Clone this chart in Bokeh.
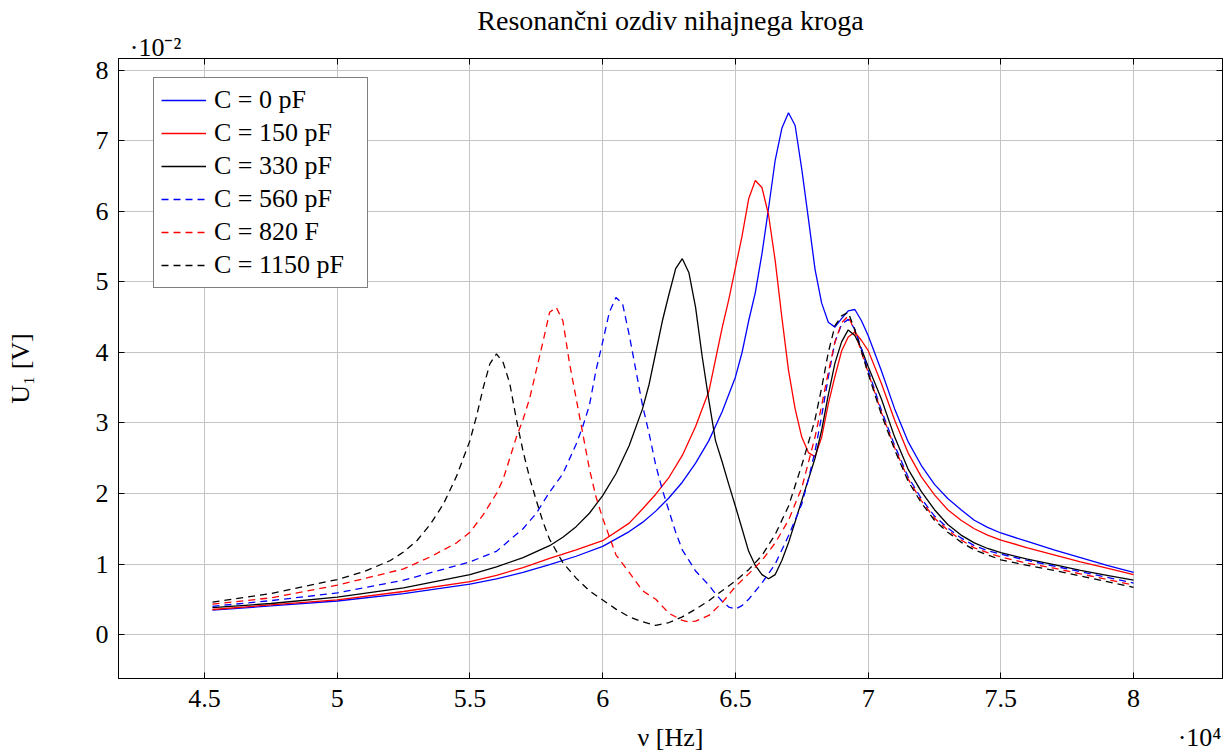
from bokeh.plotting import figure
from bokeh.models import (Range1d, FixedTicker, LinearAxis, Legend, LegendItem,
                          CustomJSTickFormatter, ColumnDataSource)
from bokeh.embed import file_html
from bokeh.resources import INLINE

# ---- data: frequency in kHz, voltage U1 in mV ----
nu_c0 = [45.3, 47.5, 50.0, 52.5, 55.0, 56.0, 57.0, 58.0, 59.0, 60.0, 61.0, 61.5, 62.0, 62.5, 63.0,
         63.5, 64.0, 64.5, 65.0, 65.25, 65.5, 65.75, 66.0, 66.25, 66.5, 66.75, 67.0, 67.25, 67.5,
         67.75, 68.0, 68.25, 68.5, 68.75, 69.0, 69.25, 69.5, 69.75, 70.0, 70.5, 71.0, 71.5, 72.0,
         72.5, 73.0, 73.5, 74.0, 74.5, 75.0, 76.0, 77.0, 78.0, 79.0, 80.0]
u_c0 = [3.45, 4.05, 4.75, 5.8, 7.15, 7.9, 8.8, 9.9, 11.1, 12.5, 14.6, 15.9, 17.5, 19.4, 21.6,
        24.3, 27.5, 31.6, 36.5, 40.0, 44.5, 48.5, 54.0, 60.5, 67.3, 71.8, 74.0, 72.2, 66.0,
        59.0, 51.8, 47.0, 44.3, 43.6, 44.8, 45.9, 46.1, 44.5, 42.4, 37.4, 32.0, 27.4, 24.0,
        21.3, 19.3, 17.7, 16.2, 15.2, 14.4, 13.2, 12.0, 10.9, 9.8, 8.8]

nu_c150 = [45.3, 47.5, 50.0, 52.5, 55.0, 56.0, 57.0, 58.0, 59.0, 60.0, 61.0, 61.5, 62.0, 62.5, 63.0,
           63.5, 64.0, 64.25, 64.5, 64.75, 65.0, 65.25, 65.5, 65.75, 66.0, 66.25, 66.5, 66.75,
           67.0, 67.25, 67.5, 67.75, 68.0, 68.25, 68.5, 68.75, 69.0, 69.25, 69.5, 69.75, 70.0,
           70.5, 71.0, 71.5, 72.0, 72.5, 73.0, 73.5, 74.0, 74.5, 75.0, 76.0, 77.0, 78.0, 79.0, 80.0]
u_c150 = [3.55, 4.2, 4.9, 6.1, 7.5, 8.4, 9.5, 10.8, 12.0, 13.3, 15.8, 17.8, 19.9, 22.3, 25.4,
          29.5, 34.5, 39.0, 43.5, 47.5, 52.0, 56.5, 61.8, 64.4, 63.4, 59.5, 53.0, 45.0,
          37.5, 32.0, 28.0, 25.8, 25.2, 28.0, 32.7, 36.6, 40.2, 42.2, 42.9, 41.7, 40.3,
          35.6, 30.4, 25.8, 22.4, 19.8, 17.7, 16.2, 15.0, 14.1, 13.4, 12.3, 11.3, 10.3, 9.4, 8.5]

nu_c330 = [45.3, 47.5, 50.0, 52.5, 55.0, 56.0, 57.0, 58.0, 58.5, 59.0, 59.5, 60.0, 60.5, 61.0,
           61.5, 61.75, 62.0, 62.25, 62.5, 62.75, 63.0, 63.25, 63.5, 63.75, 64.0, 64.25, 64.5,
           64.75, 65.0, 65.25, 65.5, 65.75, 66.0, 66.25, 66.5, 66.75, 67.0, 67.25, 67.5, 67.75,
           68.0, 68.25, 68.5, 68.75, 69.0, 69.25, 69.5, 69.75, 70.0, 70.5, 71.0, 71.5, 72.0,
           72.5, 73.0, 73.5, 74.0, 74.5, 75.0, 76.0, 77.0, 78.0, 79.0, 80.0]
u_c330 = [3.8, 4.4, 5.3, 6.6, 8.5, 9.6, 10.9, 12.6, 13.8, 15.3, 17.2, 19.7, 22.8, 26.8,
          32.0, 35.5, 40.0, 44.5, 48.3, 51.9, 53.3, 51.3, 46.4, 39.4, 33.2, 27.5, 24.5,
          21.3, 18.2, 15.0, 11.8, 9.8, 8.5, 7.9, 8.5, 10.5, 13.0, 16.0, 19.0, 22.0,
          25.0, 29.0, 34.0, 38.5, 41.5, 43.2, 42.4, 40.5, 38.0, 33.4, 28.0, 23.5, 20.3,
          17.7, 15.6, 14.1, 13.0, 12.2, 11.6, 10.7, 9.9, 9.1, 8.4, 7.7]

nu_c560 = [45.3, 47.5, 50.0, 52.5, 55.0, 56.0, 57.0, 57.5, 58.0, 58.5, 59.0, 59.25, 59.5, 59.75,
           60.0, 60.25, 60.5, 60.75, 61.0, 61.25, 61.5, 61.75, 62.0, 62.25, 62.5, 62.75, 63.0,
           63.5, 64.0, 64.25, 64.5, 64.75, 65.0, 65.25, 65.5, 66.0, 66.5, 67.0, 67.5, 67.75,
           68.0, 68.25, 68.5, 68.75, 69.0, 69.25, 69.5, 69.75, 70.0, 70.5, 71.0, 71.5, 72.0,
           72.5, 73.0, 73.5, 74.0, 74.5, 75.0, 76.0, 77.0, 78.0, 79.0, 80.0]
u_c560 = [4.0, 4.8, 5.9, 7.7, 10.3, 11.8, 15.0, 17.2, 20.2, 22.8, 27.0, 29.5, 32.5, 37.5,
          41.5, 45.7, 47.8, 46.9, 42.5, 37.5, 32.5, 28.5, 24.0, 20.5, 17.5, 14.5, 12.0,
          9.0, 7.0, 5.8, 4.7, 3.9, 3.6, 4.1, 5.0, 7.3, 10.0, 14.0, 18.5, 22.0,
          26.0, 31.0, 36.5, 41.5, 44.0, 44.7, 43.3, 40.5, 37.5, 31.8, 26.8, 22.4, 19.3,
          16.8, 15.1, 13.7, 12.6, 11.9, 11.4, 10.5, 9.7, 8.9, 8.1, 7.3]

nu_c820 = [45.3, 47.5, 50.0, 52.5, 53.5, 54.5, 55.0, 55.5, 56.0, 56.25, 56.5, 56.75, 57.0, 57.25,
           57.5, 57.75, 58.0, 58.25, 58.5, 58.75, 59.0, 59.25, 59.5, 59.75, 60.0, 60.5, 61.0,
           61.5, 62.0, 62.5, 63.0, 63.25, 63.5, 64.0, 64.5, 65.0, 65.5, 66.0, 66.5, 67.0,
           67.5, 68.0, 68.25, 68.5, 68.75, 69.0, 69.25, 69.5, 69.75, 70.0, 70.5, 71.0, 71.5,
           72.0, 72.5, 73.0, 73.5, 74.0, 74.5, 75.0, 76.0, 77.0, 78.0, 79.0, 80.0]
u_c820 = [4.3, 5.2, 7.0, 9.3, 11.0, 13.0, 14.5, 17.0, 20.0, 22.0, 25.0, 28.0, 30.5, 33.5,
          37.5, 41.5, 45.7, 46.4, 44.5, 38.5, 33.5, 28.5, 23.5, 19.5, 16.5, 11.3, 8.8,
          6.2, 5.0, 3.0, 2.0, 1.8, 1.9, 2.7, 4.5, 6.8, 8.6, 10.5, 13.0, 16.2,
          20.8, 28.0, 32.5, 37.2, 41.5, 44.2, 45.2, 43.0, 40.0, 37.2, 31.5, 26.5, 22.1,
          19.0, 16.5, 14.8, 13.4, 12.3, 11.6, 11.0, 10.1, 9.4, 8.6, 7.8, 7.0]

nu_c1150 = [45.3, 47.5, 50.0, 51.0, 52.0, 52.5, 53.0, 53.5, 54.0, 54.5, 55.0, 55.25, 55.5, 55.75,
            56.0, 56.25, 56.5, 56.75, 57.0, 57.25, 57.5, 57.75, 58.0, 58.5, 59.0, 59.5, 60.0,
            60.5, 61.0, 61.5, 62.0, 62.5, 63.0, 63.5, 64.0, 64.5, 65.0, 65.5, 66.0, 66.5,
            67.0, 67.5, 67.75, 68.0, 68.25, 68.5, 68.75, 69.0, 69.25, 69.5, 69.75, 70.0, 70.5,
            71.0, 71.5, 72.0, 72.5, 73.0, 73.5, 74.0, 74.5, 75.0, 76.0, 77.0, 78.0, 79.0, 80.0]
u_c1150 = [4.6, 5.8, 7.8, 8.9, 10.5, 11.7, 13.3, 15.6, 18.5, 22.5, 27.5, 31.0, 35.0, 38.4,
           39.8, 38.6, 35.6, 30.5, 26.0, 22.2, 19.0, 16.0, 13.5, 10.2, 8.0, 6.2, 4.9,
           3.6, 2.5, 1.8, 1.3, 1.7, 2.5, 3.6, 4.8, 6.2, 7.6, 9.2, 11.2, 14.2,
           18.2, 24.0, 27.2, 30.5, 35.0, 40.0, 43.8, 45.2, 45.7, 43.2, 40.2, 37.0, 31.2,
           26.2, 21.8, 18.7, 16.2, 14.5, 13.1, 12.0, 11.3, 10.6, 9.8, 9.1, 8.3, 7.5, 6.7]

labels = ["C = 0 pF", "C = 150 pF", "C = 330 pF", "C = 560 pF", "C = 820 F", "C = 1150 pF"]
colors = ["#0000ff", "#ff0000", "#000000", "#0000ff", "#ff0000", "#000000"]
dashes = ["solid", "solid", "solid", "7 5", "7 5", "7 5"]
x_ticks = [4.5, 5.0, 5.5, 6.0, 6.5, 7.0, 7.5, 8.0]
y_ticks = [0, 1, 2, 3, 4, 5, 6, 7, 8]
x_label = "ν [Hz]"
y_label = "U₁ [V]"
y_scale_text = "·10⁻²"
x_scale_text = "·10⁴"

FONT = "Liberation Serif"
FS = "26px"
X0, X1 = 4.176, 8.335          # x range (units of 1e4 Hz)
FRAME_W = 1104
PX = FRAME_W / (X1 - X0)       # pixels per x unit

p = figure(frame_width=FRAME_W, frame_height=620, output_backend="svg", toolbar_location=None,
           x_range=Range1d(X0, X1), y_range=Range1d(-0.624, 8.17),
           min_border_left=118, min_border_right=3, min_border_top=58, min_border_bottom=73,
           title="Resonančni ozdiv nihajnega kroga", y_axis_label=y_label)
p.background_fill_color = "white"
p.border_fill_color = "white"
p.outline_line_color = "black"
p.outline_line_width = 1

p.title.text_font = FONT
p.title.text_font_size = "28px"
p.title.text_font_style = "normal"
p.title.align = "center"
p.title.text_color = "black"
try:
    p.title.standoff = -12
except ValueError:
    p.title.standoff = 0

xt = FixedTicker(ticks=x_ticks)
yt = FixedTicker(ticks=y_ticks)
fmt = CustomJSTickFormatter(code="return String(Math.round(tick*10)/10);")
blank = CustomJSTickFormatter(code="return '';")

for ax in p.xaxis:
    ax.ticker = xt
    ax.formatter = fmt
for ax in p.yaxis:
    ax.ticker = yt

for ax in list(p.xaxis) + list(p.yaxis):
    ax.major_tick_in = 6
    ax.major_tick_out = 0
    ax.minor_tick_line_color = None
    ax.major_label_text_font = FONT
    ax.major_label_text_font_size = FS
    ax.major_label_text_color = "black"
    ax.axis_label_text_font = FONT
    ax.axis_label_text_font_size = FS
    ax.axis_label_text_font_style = "normal"
    ax.axis_label_text_color = "black"
    ax.axis_line_color = "black"
    ax.major_tick_line_color = "black"
p.xaxis.major_label_standoff = 11
p.yaxis.major_label_standoff = 10
p.yaxis.axis_label_standoff = 58

# right axis: tick marks only
p.add_layout(LinearAxis(ticker=yt, formatter=blank, major_tick_in=6, major_tick_out=0,
                        minor_tick_line_color=None, major_label_standoff=0,
                        axis_line_color="black", major_tick_line_color="black"), "right")

# top axis: tick marks (as minor ticks) + the y scale factor as its only label
y_note_x = X0 + 37 / PX
top = LinearAxis(ticker=FixedTicker(ticks=[y_note_x], minor_ticks=x_ticks),
                 formatter=CustomJSTickFormatter(code="return %r;" % y_scale_text),
                 major_tick_line_color=None, major_tick_in=0, major_tick_out=0,
                 minor_tick_line_color="black", minor_tick_in=6, minor_tick_out=0,
                 major_label_text_font=FONT,
                 major_label_text_font_size=FS, major_label_text_color="black",
                 axis_line_color="black")
try:
    top.major_label_standoff = -3
except ValueError:
    top.major_label_standoff = 0
p.add_layout(top, "above")

# second bottom axis row: axis label and x scale factor on one line
lab_x = X0 + (670 - 118) / PX
note_x = X0 + (1199 - 118) / PX
bottom2 = LinearAxis(ticker=FixedTicker(ticks=[lab_x, note_x]),
                     formatter=CustomJSTickFormatter(
                         code="return tick < %f ? %r : %r;" % ((lab_x + note_x) / 2, x_label, x_scale_text)),
                     axis_line_color=None, major_tick_line_color=None, minor_tick_line_color=None,
                     major_label_standoff=7, major_label_text_font=FONT,
                     major_label_text_font_size=FS, major_label_text_color="black")
p.add_layout(bottom2, "below")

p.xgrid.ticker = xt
p.ygrid.ticker = yt
p.xgrid.grid_line_color = "#c4c4c4"
p.ygrid.grid_line_color = "#c4c4c4"
p.xgrid.grid_line_width = 1
p.ygrid.grid_line_width = 1

all_nu = [nu_c0, nu_c150, nu_c330, nu_c560, nu_c820, nu_c1150]
all_u = [u_c0, u_c150, u_c330, u_c560, u_c820, u_c1150]
items = []
for lab, nu, u, col, dash in zip(labels, all_nu, all_u, colors, dashes):
    src = ColumnDataSource(dict(x=[v / 10.0 for v in nu], y=[v / 10.0 for v in u]))
    r = p.line("x", "y", source=src, line_color=col, line_width=1.3, line_dash=dash)
    items.append(LegendItem(label=lab, renderers=[r]))

legend = Legend(items=items, location=(35, 390), label_text_font=FONT, label_text_font_size=FS,
                label_text_color="black", glyph_width=45, glyph_height=20, label_height=20,
                label_width=146, label_standoff=8, spacing=3, padding=7, margin=0,
                border_line_color="black", border_line_width=1, background_fill_color="white",
                background_fill_alpha=1.0)
p.add_layout(legend)

open("out.html", "w").write(file_html(p, INLINE))
